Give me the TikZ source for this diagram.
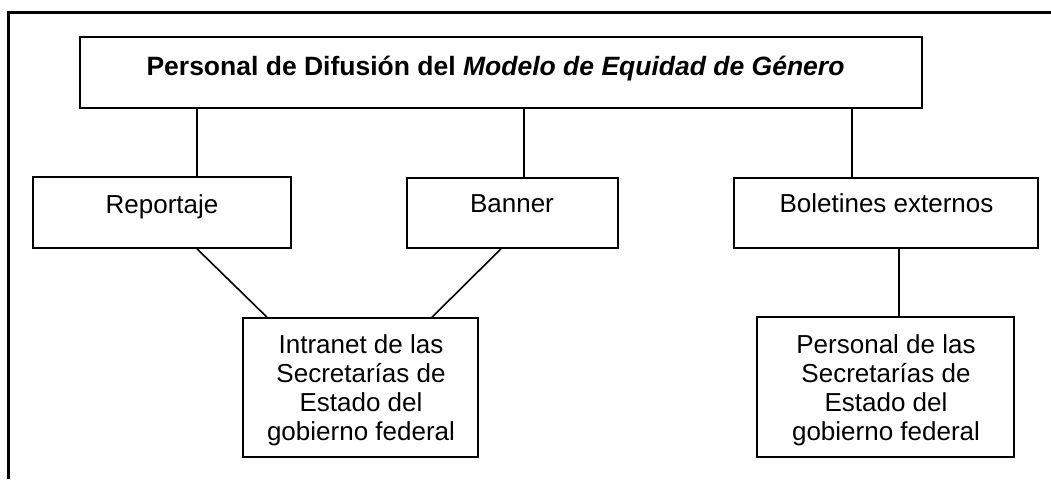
\documentclass[tikz,border=0pt]{standalone}
\usepackage{fontspec}
\setmainfont{Liberation Sans}
\begin{document}
\begin{tikzpicture}[x=0.5pt,y=-0.5pt,
  box/.style={draw, line width=0.8pt, inner sep=0pt, rectangle},
  txt/.style={inner sep=0pt, align=center, font=\fontsize{13}{14.5}\selectfont},
  link/.style={line width=0.8pt}]
\useasboundingbox (0,0) rectangle (1051,479);
% outer frame (top and left)
\draw[line width=1.5pt] (1051,12.5) -- (8.5,12.5) -- (8.5,479);
% boxes
\node[box, minimum width=421pt, minimum height=35.5pt] (top) at (501,72.5) {};
\node[box, minimum width=129pt, minimum height=35.5pt] (rep) at (162,212.5) {};
\node[box, minimum width=105.5pt, minimum height=35pt] (ban) at (512.5,213) {};
\node[box, minimum width=152pt, minimum height=35pt] (bol) at (886,213) {};
\node[box, minimum width=117.5pt, minimum height=69.5pt] (intr) at (360.5,387.5) {};
\node[box, minimum width=128.5pt, minimum height=70pt] (pers) at (885.5,387) {};
% texts
\node[txt, anchor=base, font=\fontsize{13.25}{15}\selectfont] (topt) at (495.5,75) {\textbf{Personal de Difusión del \textit{Modelo de Equidad de Género}}};
\node[txt, anchor=base] (rept) at (162,213) {Reportaje};
\node[txt, anchor=base] (bant) at (512,212) {Banner};
\node[txt, anchor=base] (bolt) at (886.5,212) {Boletines externos};
\node[txt, anchor=base] (intrt) at (361,440) {Intranet de las\\Secretarías de\\Estado del\\gobierno federal};
\node[txt, anchor=base] (perst) at (886,440) {Personal de las\\Secretarías de\\Estado del\\gobierno federal};
% connector points
\coordinate (r1) at ([xshift=17.5pt]rep.north);
\coordinate (b1) at ([xshift=5.75pt]ban.north);
\coordinate (o1) at ([xshift=-17pt]bol.north);
\coordinate (o2) at ([xshift=6.5pt]bol.south);
% connectors
\draw[link] (r1) -- (r1 |- top.south);
\draw[link] (b1) -- (b1 |- top.south);
\draw[link] (o1) -- (o1 |- top.south);
\draw[link] ([xshift=17.5pt]rep.south) -- ([xshift=-46.75pt]intr.north);
\draw[link] ([xshift=-5.75pt]ban.south) -- ([xshift=35.75pt]intr.north);
\draw[link] (o2) -- (o2 |- pers.north);
\end{tikzpicture}
\end{document}
